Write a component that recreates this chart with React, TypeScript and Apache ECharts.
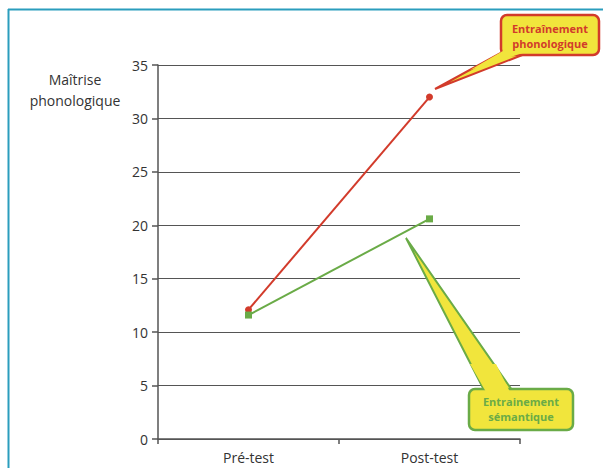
import React, { useEffect, useRef } from "react";
import * as echarts from "echarts";

const categories = ["Pré-test", "Post-test"];
const phonoValues = [12.1, 32.0];
const semanValues = [11.6, 20.6];
const yTicks = { min: 0, max: 35, interval: 5 };

const RED = "#d23b2b";
const GREEN = "#6aab47";
const YELLOW = "#f1e53c";
const BLUE = "#2b9dbd";
const FONT = "'Open Sans', 'Noto Sans', sans-serif";

export default function App() {
  const ref = useRef<HTMLDivElement>(null);
  useEffect(() => {
    if (!ref.current) return;
    const chart = echarts.init(ref.current, null, { renderer: "svg" });
    chart.setOption({
      animation: false,
      grid: { left: 158, right: 83, top: 65, bottom: 29 },
      xAxis: {
        type: "category",
        data: categories,
        boundaryGap: true,
        axisLine: { lineStyle: { color: "#555", width: 1.5 } },
        axisTick: { show: true, length: 5, lineStyle: { color: "#555", width: 1.5 } },
        axisLabel: { color: "#333", fontSize: 14, fontFamily: FONT, margin: 11 },
      },
      yAxis: {
        type: "value",
        min: yTicks.min,
        max: yTicks.max,
        interval: yTicks.interval,
        axisLine: { show: true, lineStyle: { color: "#555", width: 1.5 } },
        axisTick: { show: true, length: 6, lineStyle: { color: "#555", width: 1.5 } },
        axisLabel: { color: "#333", fontSize: 14, fontFamily: FONT, margin: 10 },
        splitLine: { show: true, lineStyle: { color: "#555", width: 1.2 } },
      },
      series: [
        {
          type: "line",
          name: "phonologique",
          data: phonoValues,
          symbol: "circle",
          symbolSize: 7,
          lineStyle: { color: RED, width: 2 },
          itemStyle: { color: RED },
          z: 3,
        },
        {
          type: "line",
          name: "sémantique",
          data: semanValues,
          symbol: "rect",
          symbolSize: 7,
          lineStyle: { color: GREEN, width: 2 },
          itemStyle: { color: GREEN },
          z: 4,
        },
      ],
      graphic: [
        { type: "line", shape: { x1: 8, y1: 9.5, x2: 603, y2: 9.5 }, style: { stroke: BLUE, lineWidth: 2 } },
        { type: "line", shape: { x1: 8.5, y1: 9, x2: 8.5, y2: 468 }, style: { stroke: BLUE, lineWidth: 2 } },
        {
          type: "text",
          x: 75,
          y: 90,
          style: {
            text: "Maîtrise\nphonologique",
            fill: "#333",
            fontSize: 14,
            fontFamily: FONT,
            align: "center",
            verticalAlign: "middle",
            lineHeight: 21,
          },
        },
        // Red callout
        {
          type: "polygon",
          shape: { points: [[435, 89], [506, 50], [530, 52]] },
          style: { fill: YELLOW, stroke: RED, lineWidth: 2 },
          z: 10,
        },
        {
          type: "rect",
          shape: { x: 501, y: 15, width: 98, height: 40, r: 6 },
          style: { fill: YELLOW, stroke: RED, lineWidth: 2.5 },
          z: 11,
        },
        {
          type: "polygon",
          shape: { points: [[470, 70], [508, 48], [526, 50], [526, 52]] },
          style: { fill: YELLOW },
          z: 12,
        },
        {
          type: "text",
          x: 550,
          y: 36,
          style: {
            text: "Entraînement\nphonologique",
            fill: RED,
            fontSize: 11,
            fontWeight: "bold",
            fontFamily: FONT,
            align: "center",
            verticalAlign: "middle",
            lineHeight: 15,
          },
          z: 13,
        },
        // Green callout
        {
          type: "polygon",
          shape: { points: [[406, 238], [484, 390], [512, 390]] },
          style: { fill: YELLOW, stroke: GREEN, lineWidth: 2 },
          z: 10,
        },
        {
          type: "rect",
          shape: { x: 469, y: 389, width: 104, height: 41, r: 6 },
          style: { fill: YELLOW, stroke: GREEN, lineWidth: 2.5 },
          z: 11,
        },
        {
          type: "polygon",
          shape: { points: [[470, 364], [486, 392], [510, 392], [496, 364]] },
          style: { fill: YELLOW },
          z: 12,
        },
        {
          type: "text",
          x: 521,
          y: 409,
          style: {
            text: "Entrainement\nsémantique",
            fill: GREEN,
            fontSize: 11,
            fontWeight: "bold",
            fontFamily: FONT,
            align: "center",
            verticalAlign: "middle",
            lineHeight: 15,
          },
          z: 13,
        },
      ],
    });
    return () => chart.dispose();
  }, []);
  return (
    <div
      ref={ref}
      style={{ position: "absolute", left: 0, top: 0, width: 603, height: 468, background: "#fff" }}
    />
  );
}
